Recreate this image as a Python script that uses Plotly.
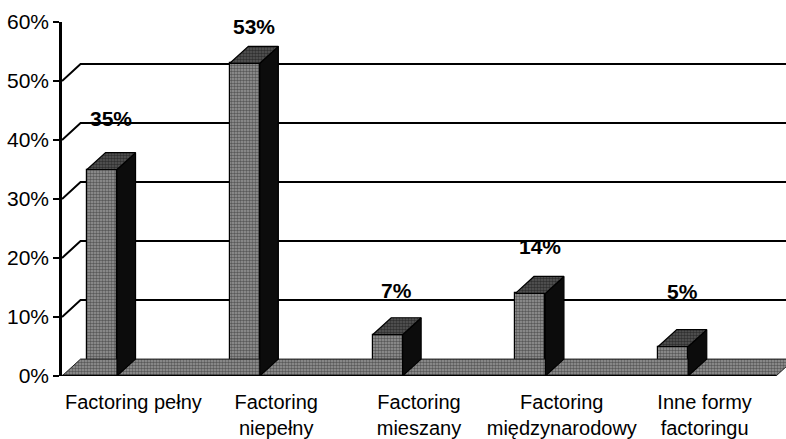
import plotly.graph_objects as go

# Data: share of factoring types
categories = ["Factoring pełny", "Factoring<br>niepełny", "Factoring<br>mieszany",
              "Factoring<br>międzynarodowy", "Inne formy<br>factoringu"]
values = [35, 53, 7, 14, 5]
y_ticks = [0, 10, 20, 30, 40, 50, 60]
y_tick_text = [f"{v}%" for v in y_ticks]

# Pseudo-3D geometry (axis units)
DX = 0.13          # depth shift along x
DY = 2.87          # depth shift along y (percent units)
BAR_SHIFT = -0.22  # front-face centre relative to category centre
BAR_W = 0.21
X_MIN, X_MAX = -0.5, 4.57
label_lift = [8.7, 6.2, 7.5, 7.9, 9.3]

FONT = "Liberation Sans, Arial, sans-serif"
idx = list(range(len(values)))
front_c = [i + BAR_SHIFT for i in idx]

GRAIN = dict(shape=".", fgcolor="#1a1a1a", bgcolor="#999999", size=3, solidity=0.55)
GRAIN_DARK = dict(shape=".", fgcolor="#080808", bgcolor="#585858", size=3, solidity=0.55)

fig = go.Figure()

# floor
n = len(values)
fig.add_trace(go.Scatter(
    x=[X_MIN, n - 0.5, n - 0.5 + DX, X_MIN + DX, X_MIN],
    y=[0, 0, DY, DY, 0],
    mode="lines", fill="toself", line=dict(color="#222", width=1),
    fillcolor="#707070", fillpattern=GRAIN,
    hoverinfo="skip", showlegend=False))

# front faces
fig.add_trace(go.Bar(
    x=front_c, y=values, width=BAR_W, base=0,
    marker=dict(color="#707070", line=dict(color="black", width=1.2), pattern=GRAIN),
    hoverinfo="skip", showlegend=False))

# side and top faces
side_x, side_y, top_x, top_y = [], [], [], []
for c, v in zip(front_c, values):
    xl, xr = c - BAR_W / 2, c + BAR_W / 2
    side_x += [xr, xr, xr + DX, xr + DX, xr, None]
    side_y += [0, v, v + DY, DY, 0, None]
    top_x += [xl, xr, xr + DX, xl + DX, xl, None]
    top_y += [v, v, v + DY, v + DY, v, None]

fig.add_trace(go.Scatter(
    x=side_x, y=side_y, mode="lines", fill="toself",
    line=dict(color="black", width=1.2), fillcolor="#0c0c0c",
    hoverinfo="skip", showlegend=False))
fig.add_trace(go.Scatter(
    x=top_x, y=top_y, mode="lines", fill="toself",
    line=dict(color="black", width=1.2), fillcolor="#333333", fillpattern=GRAIN_DARK,
    hoverinfo="skip", showlegend=False))

# value labels
for c, v, lift in zip(front_c, values, label_lift):
    fig.add_annotation(x=c + DX / 2, y=v + lift, text=f"<b>{v}%</b>", showarrow=False,
                       font=dict(family=FONT, size=21, color="black"))

# back-wall gridlines with their diagonal returns to the value axis
shapes = []
for v in y_ticks[1:-1]:
    shapes.append(dict(type="path", xref="x", yref="y", layer="below",
                       path=f"M {X_MIN},{v} L {X_MIN + DX},{v + DY} L {X_MAX},{v + DY}",
                       line=dict(color="black", width=2)))
# category axis line
shapes.append(dict(type="line", xref="x", yref="y", x0=X_MIN, x1=n - 0.5, y0=0, y1=0,
                   line=dict(color="black", width=2.5)))

fig.update_layout(
    width=786, height=439,
    margin=dict(l=62, r=0, t=22, b=61),
    paper_bgcolor="white", plot_bgcolor="white",
    font=dict(family=FONT, size=20, color="black"),
    shapes=shapes,
    bargap=0,
    xaxis=dict(range=[X_MIN, X_MAX], tickvals=idx, ticktext=categories,
               ticks="", showgrid=False, zeroline=False, showline=False,
               ticklabelstandoff=12, tickfont=dict(size=20), fixedrange=True),
    xaxis2=dict(range=[X_MIN, X_MAX], overlaying="x", anchor="y", side="bottom",
                tickvals=[i + 0.5 for i in idx], ticks="outside", ticklen=6, tickwidth=2,
                tickcolor="black", showticklabels=False, showgrid=False, zeroline=False,
                showline=False),
    yaxis=dict(range=[0, 60], tickvals=y_ticks, ticktext=y_tick_text,
               ticks="outside", ticklen=6, tickwidth=2, tickcolor="black",
               showline=True, linewidth=2.5, linecolor="black",
               showgrid=False, zeroline=False, tickfont=dict(size=21)),
)

fig.write_html("out.html")
